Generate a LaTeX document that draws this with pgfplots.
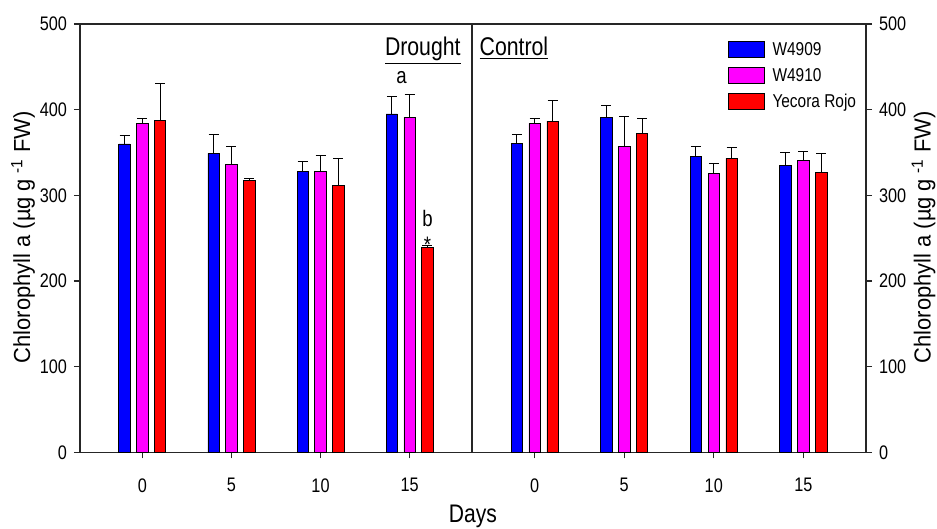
\documentclass[border=0pt]{standalone}
\usepackage{fontspec}
\setmainfont{Liberation Sans}[FakeStretch=0.83]
\usepackage{pgfplots}
\pgfplotsset{compat=1.18}
\definecolor{cblue}{RGB}{0,0,255}
\definecolor{cmag}{RGB}{255,0,255}
\definecolor{cred}{RGB}{255,0,0}
\pgfplotsset{
  panel/.style={scale only axis, height=214.15pt, ymin=0, ymax=500, xmin=-0.7, xmax=3.7,
    xtick={0,1,2,3}, xticklabels={0,5,10,15}, ytick={0,100,...,500},
    xtick pos=bottom, tick align=outside, major tick length=3pt,
    axis line style={line width=0.6pt, black!85}, tick style={line width=0.6pt, black!85},
    tick label style={font=\fontsize{9.8}{11}\selectfont},
    xticklabel style={yshift=-6.5pt},
    /pgf/number format/assume math mode=true, clip=false},
  bars/.style={ybar, bar width=0.127, bar shift=0pt, draw=black, line width=0.4pt, fill=#1,
    error bars/.cd, y dir=plus, y explicit,
    error bar style={line width=0.5pt, black},
    error mark options={rotate=90, mark size=2.5pt, line width=0.5pt, black}},
}
\newcommand{\ylab}{\scalebox{1}[0.88]{Chlorophyll a (µg g\hspace{0.2em}\textsuperscript{-1} FW)}}
\begin{document}
\begin{tikzpicture}
\useasboundingbox (-40pt,-38.35pt) rectangle (428.5pt,226.15pt);
% Drought panel
\begin{axis}[panel, at={(0pt,0pt)}, anchor=south west, width=196pt, ytick pos=left]
\addplot[bars=cblue] coordinates {(-0.2,360) +- (0,10) (0.8,349) +- (0,22) (1.8,328) +- (0,12) (2.8,395) +- (0,20)};
\addplot[bars=cmag] coordinates {(0,384) +- (0,6) (1,336) +- (0,21) (2,328) +- (0,19) (3,391) +- (0,27)};
\addplot[bars=cred] coordinates {(0.2,387) +- (0,43) (1.2,317.5) +- (0,2) (2.2,311) +- (0,32) (3.2,239) +- (0,2)};
\node[anchor=base east, inner sep=0pt, font=\fontsize{12.8}{14}\selectfont, xshift=-5.5pt] at (axis cs:3.7,463) {\underline{Drought}};
\node[anchor=base, inner sep=0pt, font=\fontsize{11.2}{13}\selectfont] at (axis cs:2.91,431) {a};
\node[anchor=base, inner sep=0pt, font=\fontsize{11.2}{13}\selectfont] at (axis cs:3.2,263.5) {b};
\node[anchor=base, inner sep=0pt, font=\fontsize{11.2}{13}\selectfont] at (axis cs:3.2,233) {*};
\end{axis}
% Control panel
\begin{axis}[panel, at={(196pt,0pt)}, anchor=south west, width=197pt, ytick pos=right, yticklabel pos=right,
  legend cell align=left,
  legend style={at={(rel axis cs:0.649,0.965)}, anchor=north west, draw=none, fill=none, inner sep=0pt,
    font=\fontsize{9.3}{10}\selectfont, row sep=2.5pt,
    nodes={inner sep=1pt, text height=7pt, text depth=1.5pt},
    /tikz/every odd column/.append style={column sep=2.8pt}}]
\addlegendimage{legend image code/.code={\draw[fill=cblue, draw=black, line width=0.4pt] (0pt,-4pt) rectangle (18pt,4pt);}}
\addlegendimage{legend image code/.code={\draw[fill=cmag, draw=black, line width=0.4pt] (0pt,-4pt) rectangle (18pt,4pt);}}
\addlegendimage{legend image code/.code={\draw[fill=cred, draw=black, line width=0.4pt] (0pt,-4pt) rectangle (18pt,4pt);}}
\legend{W4909,W4910,Yecora Rojo}
\addplot[bars=cblue] coordinates {(-0.2,360.7) +- (0,10) (0.8,391.4) +- (0,14) (1.8,345.5) +- (0,12) (2.8,334.6) +- (0,15)};
\addplot[bars=cmag] coordinates {(0,384) +- (0,6) (1,357) +- (0,35) (2,326) +- (0,11) (3,341) +- (0,10)};
\addplot[bars=cred] coordinates {(0.2,386.5) +- (0,24) (1.2,372) +- (0,18) (2.2,343) +- (0,13) (3.2,327) +- (0,22)};
\node[anchor=base west, inner sep=0pt, font=\fontsize{12.8}{14}\selectfont, xshift=3.65pt] at (axis cs:-0.7,463) {\underline{Control}};
\end{axis}
% axis labels
\node[font=\fontsize{12.7}{14}\selectfont, inner sep=0pt] at (196.5pt,-32.2pt) {Days};
\node[font=\fontsize{13.2}{14}\selectfont, inner sep=0pt, rotate=90] at (-28.5pt,107.5pt) {\ylab};
\node[font=\fontsize{13.2}{14}\selectfont, inner sep=0pt, rotate=90] at (421.8pt,107.5pt) {\ylab};
\end{tikzpicture}
\end{document}
